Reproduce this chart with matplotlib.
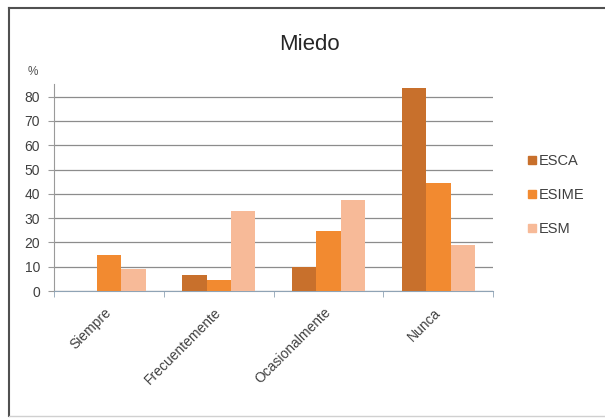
import numpy as np
import matplotlib
matplotlib.use('Agg')
import matplotlib.pyplot as plt
from matplotlib.lines import Line2D

# Data (percent)
categories = ['Siempre', 'Frecuentemente', 'Ocasionalmente', 'Nunca']
series_names = ['ESCA', 'ESIME', 'ESM']
esca = [0, 6.6, 10, 83.4]
esime = [15, 4.5, 24.5, 44.6]
esm = [9, 33, 37.5, 18.8]
yticks = [0, 10, 20, 30, 40, 50, 60, 70, 80]

colors = ['#C8702C', '#F28A30', '#F7BA98']

plt.rcParams['font.family'] = ['Liberation Sans', 'DejaVu Sans']

fig = plt.figure(figsize=(6.05, 4.2), dpi=100)
ax = fig.add_axes([0.0893, 0.307, 0.726, 0.492])

x = np.arange(len(categories))
bar_w = 1 / 4.5
for i, (name, vals) in enumerate(zip(series_names, [esca, esime, esm])):
    ax.bar(x + (i - 1) * bar_w, vals, width=bar_w, color=colors[i],
           label=name, zorder=3)

ax.set_xlim(-0.5, len(categories) - 0.5)
ax.set_ylim(0, 85)
ax.set_yticks(yticks)
for t in yticks:
    ax.axhline(t, color='#8c8c8c', lw=0.9, zorder=1)

for s in ['top', 'right']:
    ax.spines[s].set_visible(False)
ax.spines['left'].set_color('#9a9a9a')
ax.spines['bottom'].set_color('#8fa3b5')

ax.tick_params(axis='y', length=4, color='#9a9a9a', labelsize=10,
               labelcolor='#404040', pad=6)
ax.set_xticks(x)
ax.set_xticks(np.arange(-0.5, len(categories)), minor=True)
ax.tick_params(axis='x', which='major', length=0, pad=14)
ax.tick_params(axis='x', which='minor', length=4, color='#8fa3b5')
ax.set_xticklabels(categories, rotation=45, ha='right', va='center',
                   rotation_mode='anchor', fontsize=10, color='#404040')

fig.text(0.512, 0.895, 'Miedo', ha='center', va='center', fontsize=16,
         color='#262626')
fig.text(0.054, 0.828, '%', ha='center', va='center', fontsize=8.5,
         color='#505050')

handles = [Line2D([0], [0], marker='s', linestyle='', markersize=6,
                  markerfacecolor=c, markeredgecolor=c) for c in colors]
fig.legend(handles, series_names, loc='upper left',
           bbox_to_anchor=(0.845, 0.664), frameon=False, fontsize=10.5,
           handletextpad=0.0, labelspacing=1.35, handlelength=1.0,
           labelcolor='#404040')

# chart border
fig.add_artist(Line2D([0.015, 0.015], [0.01, 0.98], color='#505050', lw=1.5,
                      transform=fig.transFigure))
fig.add_artist(Line2D([0.015, 1.0], [0.98, 0.98], color='#505050', lw=1.5,
                      transform=fig.transFigure))
fig.add_artist(Line2D([0.015, 1.0], [0.01, 0.01], color='#d0d0d0', lw=1.0,
                      transform=fig.transFigure))

fig.savefig('out.png', dpi=100)
